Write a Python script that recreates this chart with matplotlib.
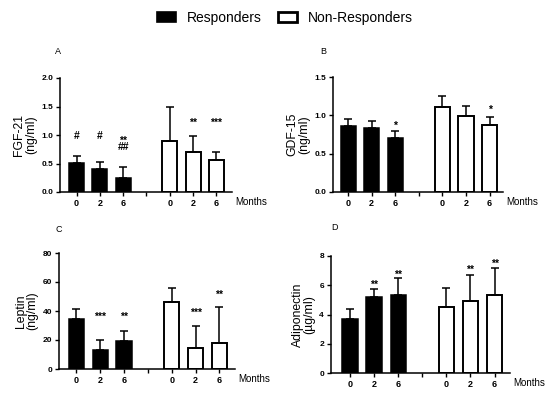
""" Responders vs non-responders: FGF-21, GDF-15, leptin, adiponectin """
import matplotlib
matplotlib.use('Agg')
import matplotlib.pyplot as plt
from matplotlib.patches import Patch

plt.rcParams['font.family'] = ['Liberation Sans', 'DejaVu Sans']

W, H = 550, 394

month_labels = ['0', '2', '6', '', '0', '2', '6']
resp_pos = [0, 1, 2]
nonresp_pos = [4, 5, 6]

# A: FGF-21
fgf_resp = [0.51, 0.41, 0.25]
fgf_resp_sd = [0.12, 0.12, 0.18]
fgf_non = [0.89, 0.71, 0.57]
fgf_non_sd = [0.61, 0.27, 0.14]
fgf_marks = [(0, 1.0, '#'), (1, 1.0, '#'), (2, 0.85, '**\n##'),
             (5, 1.27, '**'), (6, 1.27, '***')]

# B: GDF-15
gdf_resp = [0.86, 0.83, 0.71]
gdf_resp_sd = [0.09, 0.10, 0.09]
gdf_non = [1.11, 0.99, 0.87]
gdf_non_sd = [0.14, 0.13, 0.11]
gdf_marks = [(2, 0.91, '*'), (6, 1.11, '*')]

# C: leptin
lep_resp = [34.4, 13.1, 19.5]
lep_resp_sd = [6.9, 6.9, 6.4]
lep_non = [45.9, 14.7, 18.1]
lep_non_sd = [10.3, 15.1, 24.8]
lep_marks = [(1, 37.8, '***'), (2, 37.8, '**'), (5, 41.0, '***'), (6, 53.2, '**')]

# D: adiponectin
adi_resp = [3.68, 5.18, 5.30]
adi_resp_sd = [0.73, 0.55, 1.22]
adi_non = [4.50, 4.95, 5.34]
adi_non_sd = [1.30, 1.78, 1.86]
adi_marks = [(1, 6.25, '**'), (2, 6.93, '**'), (5, 7.27, '**'), (6, 7.68, '**')]

panels = [
    dict(letter='A', box=(60, 232, 192, 78), xlim=(-0.71, 6.67), ylim=(0, 2.0),
         yticks=[0, 0.5, 1.0, 1.5, 2.0], fmt='{:.1f}', ylabel='FGF-21\n(ng/ml)',
         resp=fgf_resp, resp_sd=fgf_resp_sd, non=fgf_non, non_sd=fgf_non_sd,
         marks=fgf_marks, letter_xy=(58, 52)),
    dict(letter='B', box=(333, 503, 192, 77), xlim=(-0.64, 6.57), ylim=(0, 1.5),
         yticks=[0, 0.5, 1.0, 1.5], fmt='{:.1f}', ylabel='GDF-15\n(ng/ml)',
         resp=gdf_resp, resp_sd=gdf_resp_sd, non=gdf_non, non_sd=gdf_non_sd,
         marks=gdf_marks, letter_xy=(323, 52)),
    dict(letter='C', box=(59, 235, 369, 253), xlim=(-0.73, 6.65), ylim=(0, 80),
         yticks=[0, 20, 40, 60, 80], fmt='{:.0f}', ylabel='Leptin\n(ng/ml)',
         resp=lep_resp, resp_sd=lep_resp_sd, non=lep_non, non_sd=lep_non_sd,
         marks=lep_marks, letter_xy=(59, 229)),
    dict(letter='D', box=(331, 510, 373, 256), xlim=(-0.79, 6.64), ylim=(0, 8),
         yticks=[0, 2, 4, 6, 8], fmt='{:.0f}', ylabel='Adiponectin\n(\u00b5g/ml)',
         resp=adi_resp, resp_sd=adi_resp_sd, non=adi_non, non_sd=adi_non_sd,
         marks=adi_marks, letter_xy=(335, 227)),
]

fig = plt.figure(figsize=(W / 100, H / 100), dpi=100)

err_kw = dict(elinewidth=1.1, capthick=1.1, ecolor='black')
for p in panels:
    x0, x1, yb, yt = p['box']
    ax = fig.add_axes([x0 / W, 1 - yb / H, (x1 - x0) / W, (yb - yt) / H])
    ax.bar(resp_pos, p['resp'], width=0.64, color='black', edgecolor='black', linewidth=1.1,
           yerr=[[0] * 3, p['resp_sd']], capsize=3, error_kw=err_kw, zorder=2)
    ax.bar(nonresp_pos, p['non'], width=0.64, color='white', edgecolor='black', linewidth=1.4,
           yerr=[[0] * 3, p['non_sd']], capsize=3, error_kw=err_kw, zorder=2)
    for xp, yv, txt in p['marks']:
        if '\n' in txt:
            # stacked asterisks over hashes
            ax.annotate(txt, (xp, yv), xytext=(0, 0), textcoords='offset points',
                        ha='center', va='center', fontsize=7.5, fontweight='bold',
                        linespacing=0.5)
            continue
        off = -4.4 if '*' in txt else -2.7
        ax.annotate(txt, (xp, yv), xytext=(0, off), textcoords='offset points',
                    ha='center', va='baseline', fontsize=7.5, fontweight='bold')

    ax.set_xlim(*p['xlim'])
    ax.set_ylim(*p['ylim'])
    ax.set_xticks(range(7))
    ax.set_xticklabels(month_labels, fontsize=6.5, fontweight='bold')
    ax.set_yticks(p['yticks'])
    ax.set_yticklabels([p['fmt'].format(v) for v in p['yticks']], fontsize=6, fontweight='bold')
    ax.tick_params(length=3, width=1, pad=2)
    for side in ('top', 'right'):
        ax.spines[side].set_visible(False)
    for side in ('left', 'bottom'):
        ax.spines[side].set_linewidth(1.1)
    ax.set_ylabel(p['ylabel'], fontsize=8.8, linespacing=0.95, labelpad=3)
    ax.annotate('Months', (1, 0), xytext=(2, -7), textcoords='offset points',
                xycoords='axes fraction', ha='left', va='center', fontsize=7)
    lx, ly = p['letter_xy']
    fig.text(lx / W, 1 - ly / H, p['letter'], ha='center', va='center', fontsize=6.5)

handles = [Patch(facecolor='black', edgecolor='black', linewidth=1.2),
           Patch(facecolor='white', edgecolor='black', linewidth=2)]
fig.legend(handles, ['Responders', 'Non-Responders'], loc='center', ncol=2,
           bbox_to_anchor=(285 / W, 1 - 18 / H), frameon=False, fontsize=10,
           handlelength=1.37, handleheight=0.7, handletextpad=0.8, columnspacing=1.15)

fig.savefig('out.png', dpi=100)
plt.close()
